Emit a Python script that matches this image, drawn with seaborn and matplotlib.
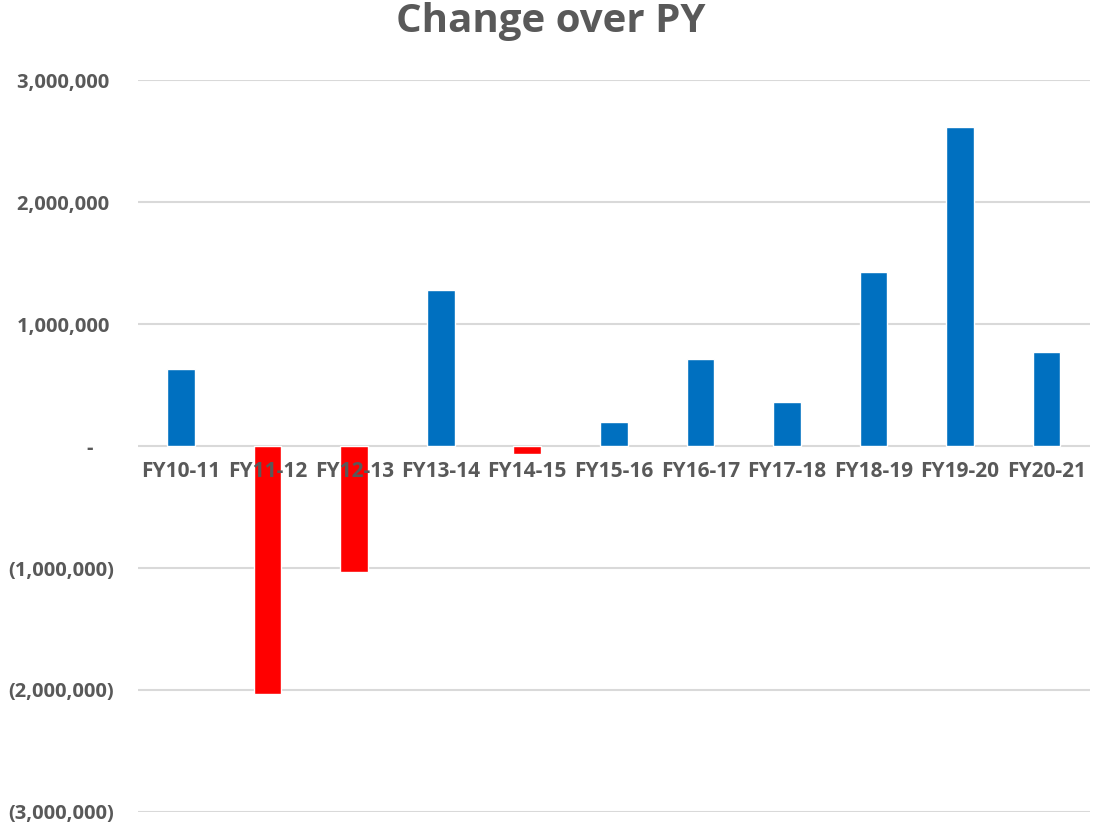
import matplotlib
matplotlib.use("Agg")
import matplotlib.pyplot as plt
import matplotlib.ticker as mticker
import pandas as pd
import seaborn as sns

years = ['FY10-11', 'FY11-12', 'FY12-13', 'FY13-14', 'FY14-15', 'FY15-16',
         'FY16-17', 'FY17-18', 'FY18-19', 'FY19-20', 'FY20-21']
change = [635000, -2035000, -1035000, 1280000, -65000, 195000,
          710000, 360000, 1425000, 2615000, 775000]

df = pd.DataFrame({'Year': years, 'Change': change})
df['Sign'] = ['neg' if v < 0 else 'pos' for v in change]

sns.set_style("white")
plt.rcParams['font.family'] = ['Open Sans', 'DejaVu Sans']

grey = '#595959'
fig = plt.figure(figsize=(11.02, 8.26), dpi=100)
ax = fig.add_axes([0.125, 0.017, 0.864, 0.886])

sns.barplot(data=df, x='Year', y='Change', hue='Sign',
            palette={'pos': '#0070C0', 'neg': '#FF0000'}, saturation=1,
            dodge=False, width=0.32, legend=False, ax=ax, zorder=2)

ax.set_ylim(-3000000, 3000000)
ax.set_yticks([-3000000, -2000000, -1000000, 0, 1000000, 2000000, 3000000])


def acct(v, pos):
    if v == 0:
        return '-    '
    if v < 0:
        return '({:,.0f})'.format(-v)
    return '{:,.0f} '.format(v)


ax.yaxis.set_major_formatter(mticker.FuncFormatter(acct))
ax.grid(axis='y', color='#D9D9D9', linewidth=1.5)
ax.set_axisbelow(True)
ax.xaxis.set_zorder(5)  # labels sit on top of the negative bars
for s in ['top', 'right', 'left']:
    ax.spines[s].set_visible(False)
ax.spines['bottom'].set_position(('data', 0))
ax.spines['bottom'].set_visible(False)

ax.tick_params(axis='x', length=0, pad=11, labelsize=15, labelcolor=grey)
ax.tick_params(axis='y', length=0, pad=17, labelsize=14.5, labelcolor=grey)
for lab in ax.get_xticklabels() + ax.get_yticklabels():
    lab.set_fontweight('bold')

ax.set_xlabel('')
ax.set_ylabel('')
ax.set_xlim(-0.5, len(years) - 0.5)
fig.suptitle('Change over PY', fontsize=29, fontweight='bold', color=grey, y=0.997)

fig.savefig('out.png', dpi=100)
